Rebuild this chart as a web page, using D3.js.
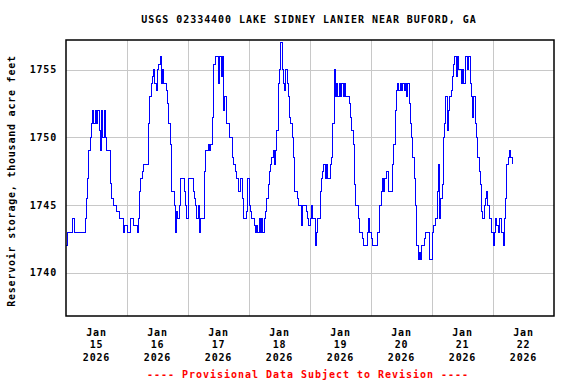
<!DOCTYPE html>
<html>
<head>
<meta charset="utf-8">
<script src="https://cdn.jsdelivr.net/npm/d3@7"></script>
<style>
  body { margin: 0; background: #fff; }
  svg text { font-family: "DejaVu Sans Mono", monospace; font-weight: bold; }
</style>
</head>
<body>
<div id="chart"></div>
<script>
const title = "USGS 02334400 LAKE SIDNEY LANIER NEAR BUFORD, GA";
const yTitle = "Reservoir storage, thousand acre feet";
const note = "---- Provisional Data Subject to Revision ----";

// reservoir storage (thousand acre-ft), one value every 30 minutes from midnight
const jan15 = [1742,1743,1743,1743,1743,1744,1744,1743,1743,1743,1743,1743,1743,1743,1743,1744,
  1745.5,1747,1749,1750,1751,1752,1751,1752,1751,1752,1750.5,1749,1752,1750,1752,1750,
  1749,1749,1749,1746.6,1745.5,1745,1745,1745,1744.5,1744.5,1744,1744,1744,1743,1743.5,1743.5];
const jan16 = [1743,1743,1743,1744,1744,1743.5,1743.5,1743.5,1743,1744,1746,1747,1747.5,1748,1748,1748,
  1748,1751,1753,1754,1754.5,1755,1754,1753.5,1755,1755.4,1756,1754,1755,1754,1754,1753.5,
  1752.5,1751,1749.5,1746,1746,1745,1743,1744.5,1744,1745,1747,1747,1747,1746,1745,1744];
const jan17 = [1747,1747,1747,1747,1746,1745.5,1745,1744,1745,1743,1744,1744,1744,1747.5,1749,1749,
  1749.5,1749,1749.5,1751.5,1755.4,1755.4,1756,1756,1754,1756,1754.5,1756,1752,1753,1751,1751,
  1751,1750,1750,1748.5,1748,1747.5,1747,1747,1746,1747,1747,1745.5,1744,1744,1744.5,1747];
const jan18 = [1745,1744.5,1744,1744,1743.5,1743,1743.5,1743,1744,1743,1744,1743,1744,1744.5,1745.5,1746.5,
  1747.5,1748,1748.5,1749,1748,1749,1750.5,1754,1755,1757,1755,1754,1753.5,1755,1754,1753,
  1751.5,1751,1750,1748.5,1746,1746,1745.5,1745,1745,1743.5,1745,1745,1745,1744.5,1744,1743.5];
const jan19 = [1744,1745,1744,1744,1742,1743,1744,1744,1746,1747,1747.5,1748,1747,1748,1747,1747,
  1748,1748.5,1751,1755,1753,1754,1753,1754,1753,1754,1753,1754,1753,1753,1753,1752.5,
  1751.5,1750.5,1749.5,1746.5,1745,1745,1744,1743,1743,1742.5,1742,1742,1742,1743,1744,1743];
const jan20 = [1742.5,1742,1742,1742,1742,1743,1743,1745,1746,1747,1746,1747,1747.5,1747.5,1746,1746,
  1746,1748,1749.5,1752,1753.5,1754,1753.5,1754,1753.5,1754,1753.5,1754,1753,1754,1752.5,1751,
  1750,1748.5,1747,1745,1742,1741,1741.5,1741,1742,1742,1742.5,1743,1743,1743,1741,1741];
const jan21 = [1743,1743.5,1743.5,1744,1746,1748,1744,1745.5,1746.5,1750,1751,1753,1750.5,1752,1753,1753.5,
  1754.5,1755.4,1756,1754.5,1756,1755,1755,1754,1755,1754,1756,1756,1755,1756,1754,1753,
  1751.5,1753,1751,1750,1748.5,1747.5,1746.5,1744.5,1744,1745,1745.5,1746,1745,1744,1744,1743];
const jan22 = [1742,1743,1744,1743.5,1743,1744,1744,1743,1742,1744,1745.5,1748,1748.5,1749,1748.5,1748];

const yTicks = [1740, 1745, 1750, 1755];
const yDomain = [1736.8, 1757.2];
const startDay = Date.UTC(2026, 0, 15);
const endDay = Date.UTC(2026, 0, 23);
const stepMinutes = 30;

const width = 576, height = 384;
const margin = {top: 40, right: 22, bottom: 68, left: 66};
const plotW = width - margin.left - margin.right;
const plotH = height - margin.top - margin.bottom;

const series = [jan15, jan16, jan17, jan18, jan19, jan20, jan21, jan22]
  .flat()
  .map((v, i) => ({t: new Date(startDay + i * stepMinutes * 60000), v: v}));

const x = d3.scaleUtc()
  .domain([new Date(startDay), new Date(endDay)])
  .range([margin.left, width - margin.right]);

const y = d3.scaleLinear()
  .domain(yDomain)
  .range([height - margin.bottom, margin.top]);

const svg = d3.select("#chart").append("svg")
  .attr("width", width)
  .attr("height", height);

// grid
const midnights = d3.utcDay.range(new Date(startDay + 86400000), new Date(endDay));
const noons = d3.utcDay.range(new Date(startDay), new Date(endDay)).map(d => d3.utcHour.offset(d, 12));

const xGrid = svg.append("g")
  .attr("transform", `translate(0,${height - margin.bottom})`)
  .call(d3.axisBottom(x).tickValues(midnights).tickSize(-plotH).tickFormat(""));
const yGrid = svg.append("g")
  .attr("transform", `translate(${margin.left},0)`)
  .call(d3.axisLeft(y).tickValues(yTicks).tickSize(-plotW).tickFormat(""));
[xGrid, yGrid].forEach(g => {
  g.select(".domain").remove();
  g.selectAll("line").attr("stroke", "#c8c8c8").attr("shape-rendering", "crispEdges");
});

// data line
const line = d3.line()
  .x(d => x(d.t))
  .y(d => y(d.v))
  .curve(d3.curveStepAfter);

svg.append("path")
  .datum(series)
  .attr("fill", "none")
  .attr("stroke", "#0000ff")
  .attr("stroke-width", 1)
  .attr("shape-rendering", "crispEdges")
  .attr("d", line);

// frame
svg.append("rect")
  .attr("x", margin.left)
  .attr("y", margin.top)
  .attr("width", plotW)
  .attr("height", plotH)
  .attr("fill", "none")
  .attr("stroke", "#000")
  .attr("stroke-width", 1.5);

// y labels
const yAxis = svg.append("g")
  .attr("transform", `translate(${margin.left},0)`)
  .call(d3.axisLeft(y).tickValues(yTicks).tickSize(0).tickPadding(9).tickFormat(d3.format("d")));
yAxis.select(".domain").remove();
yAxis.selectAll("text")
  .attr("font-size", 10)
  .attr("letter-spacing", 0.8)
  .attr("fill", "#000")
  .attr("font-family", "DejaVu Sans Mono")
  .attr("font-weight", "bold");

// x labels: month / day / year at noon of each day
const fmtMon = d3.utcFormat("%b"), fmtDay = d3.utcFormat("%-d"), fmtYr = d3.utcFormat("%Y");
const xLab = svg.append("g").selectAll("text")
  .data(noons)
  .join("text")
  .attr("text-anchor", "middle")
  .attr("font-size", 10)
  .attr("letter-spacing", 0.8)
  .attr("fill", "#000");
xLab.append("tspan").attr("x", d => x(d)).attr("y", height - margin.bottom + 19.5).text(fmtMon);
xLab.append("tspan").attr("x", d => x(d)).attr("y", height - margin.bottom + 32).text(fmtDay);
xLab.append("tspan").attr("x", d => x(d)).attr("y", height - margin.bottom + 44.5).text(fmtYr);

// titles
svg.append("text")
  .attr("x", 309)
  .attr("y", 23)
  .attr("text-anchor", "middle")
  .attr("font-size", 10)
  .attr("letter-spacing", 0.97)
  .text(title);

svg.append("text")
  .attr("transform", `translate(15,${margin.top + plotH / 2 + 3}) rotate(-90)`)
  .attr("text-anchor", "middle")
  .attr("font-size", 10)
  .attr("letter-spacing", 0.78)
  .text(yTitle);

svg.append("text")
  .attr("x", 308)
  .attr("y", 378)
  .attr("text-anchor", "middle")
  .attr("font-size", 10)
  .attr("letter-spacing", 0.98)
  .attr("fill", "#ff0000")
  .text(note);
</script>
</body>
</html>
